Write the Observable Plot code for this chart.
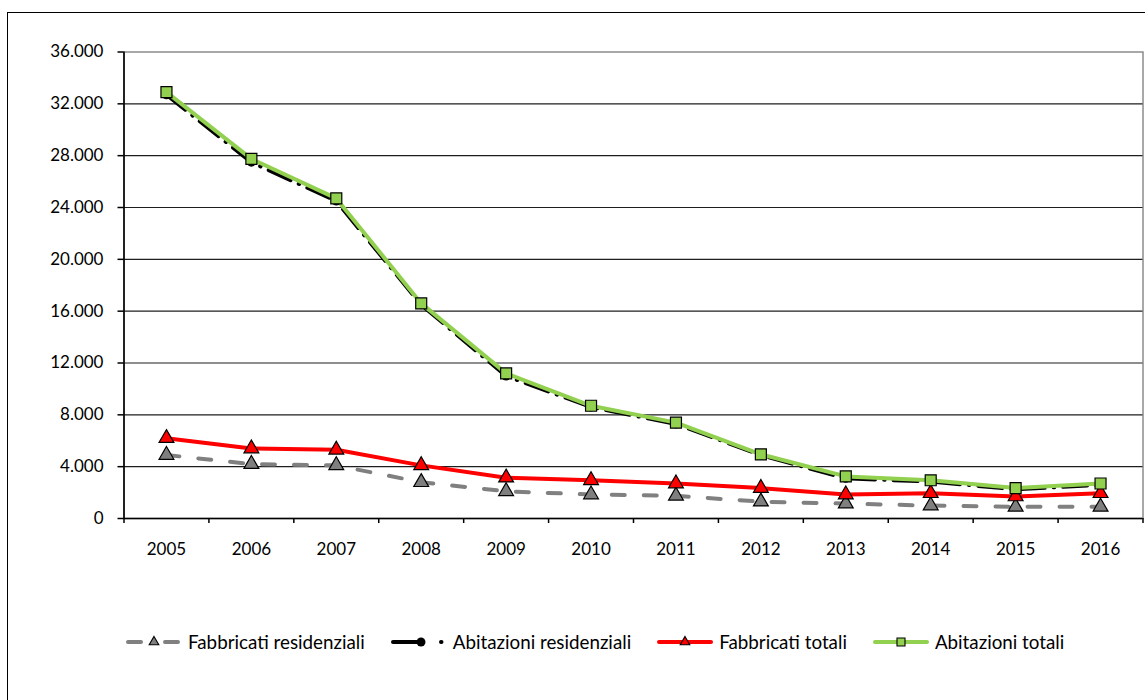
<!DOCTYPE html>
<html>
<head>
<meta charset="utf-8">
<script src="https://cdn.jsdelivr.net/npm/d3@7"></script>
<script src="https://cdn.jsdelivr.net/npm/@observablehq/plot@0.6"></script>
<style>
  html, body { margin: 0; padding: 0; background: #fff; overflow: hidden; }
  body { width: 1145px; height: 700px; position: relative; font-family: Lato, "Open Sans", sans-serif; }
  #frame { position: absolute; left: 7px; top: 12px; width: 1200px; height: 800px; border: 1px solid #000; box-sizing: border-box; }
  #chart { position: absolute; left: 0; top: 0; }
  #legend { position: absolute; left: 126px; top: 630px; display: flex; align-items: center; gap: 26px; font-size: 18.8px; color: #000; }
  .item { display: flex; align-items: center; }
  .item span { margin-left: 6px; white-space: nowrap; }
</style>
</head>
<body>
<div id="frame"></div>
<div id="chart"></div>
<div id="legend"></div>
<script>
const years = [2005, 2006, 2007, 2008, 2009, 2010, 2011, 2012, 2013, 2014, 2015, 2016];
const fabbricatiResidenziali = [4900, 4200, 4100, 2800, 2100, 1850, 1750, 1300, 1150, 1000, 900, 900];
const abitazioniResidenziali = [32700, 27500, 24500, 16500, 11000, 8600, 7300, 4900, 3100, 2850, 2250, 2600];
const fabbricatiTotali = [6200, 5400, 5300, 4100, 3150, 2950, 2700, 2350, 1850, 1950, 1700, 1950];
const abitazioniTotali = [32900, 27750, 24700, 16600, 11200, 8700, 7400, 4950, 3250, 2950, 2350, 2700];
const yTicks = [0, 4000, 8000, 12000, 16000, 20000, 24000, 28000, 32000, 36000];
const seriesNames = ["Fabbricati residenziali", "Abitazioni residenziali", "Fabbricati totali", "Abitazioni totali"];

const fmt = d3.formatLocale({decimal: ",", thousands: ".", grouping: [3], currency: ["€", ""]}).format(",");

const styles = [
  {stroke: "#808080", width: 4, dash: "13,19", symbol: "triangle", fill: "#7f7f7f", r: 5.5},
  {stroke: "#000000", width: 4, dash: "24,9,0.5,9", symbol: "circle", fill: "#000000", r: 4.5},
  {stroke: "#ff0000", width: 4, dash: null, symbol: "triangle", fill: "#ff0000", r: 5.5},
  {stroke: "#92d050", width: 4, dash: null, symbol: "square", fill: "#92d050", r: 6.2}
];
const values = [fabbricatiResidenziali, abitazioniResidenziali, fabbricatiTotali, abitazioniTotali];

const tables = values.map(vs => years.map((y, i) => ({year: y, value: vs[i]})));
const boundaries = [years[0] - 0.5, ...years.map(y => y + 0.5)];

const seriesMarks = [];
tables.forEach((t, k) => {
  const s = styles[k];
  seriesMarks.push(Plot.line(t, {x: "year", y: "value", stroke: s.stroke, strokeWidth: s.width,
    strokeDasharray: s.dash || undefined, strokeLinecap: "round", strokeLinejoin: "round"}));
});
tables.forEach((t, k) => {
  const s = styles[k];
  seriesMarks.push(Plot.dot(t, {x: "year", y: "value", symbol: s.symbol, r: s.r, fill: s.fill,
    stroke: "#000", strokeWidth: s.symbol === "circle" ? 0 : 1.2}));
});

const chart = Plot.plot({
  width: 1145,
  height: 570,
  marginLeft: 123.5,
  marginRight: 2.5,
  marginTop: 51.5,
  marginBottom: 52,
  style: {fontFamily: "Lato, 'Open Sans', sans-serif", fontSize: "17px", color: "#000", background: "transparent", overflow: "visible"},
  x: {type: "linear", domain: [years[0] - 0.5, years[years.length - 1] + 0.5]},
  y: {domain: [0, 36000]},
  marks: [
    Plot.frame({stroke: "#8c8c8c", strokeWidth: 1.5}),
    Plot.ruleY(yTicks.slice(1, -1), {stroke: "#1e1e1e", strokeWidth: 1.2}),
    Plot.axisY({ticks: yTicks, tickFormat: fmt, tickSize: 6, tickPadding: 14.5, label: null, fontSize: 17, strokeWidth: 1.5}),
    Plot.axisX({ticks: boundaries, tickSize: 5, tickFormat: () => "", label: null, strokeWidth: 1.5}),
    Plot.axisX({ticks: years, tickSize: 0, tickPadding: 24, tickFormat: d => String(d), label: null, fontSize: 17}),
    Plot.ruleX([years[0] - 0.5], {stroke: "#000", strokeWidth: 1.6}),
    Plot.ruleY([0], {stroke: "#000", strokeWidth: 1.6}),
    ...seriesMarks
  ]
});
document.getElementById("chart").appendChild(chart);

// Legend
const legend = document.getElementById("legend");
const ns = "http://www.w3.org/2000/svg";
seriesNames.forEach((name, k) => {
  const s = styles[k];
  const item = document.createElement("div");
  item.className = "item";
  const svg = document.createElementNS(ns, "svg");
  svg.setAttribute("width", 56);
  svg.setAttribute("height", 20);
  const line = document.createElementNS(ns, "line");
  line.setAttribute("x1", 2); line.setAttribute("x2", 54);
  line.setAttribute("y1", 10); line.setAttribute("y2", 10);
  line.setAttribute("stroke", s.stroke);
  line.setAttribute("stroke-width", s.width);
  line.setAttribute("stroke-linecap", "round");
  if (s.dash) line.setAttribute("stroke-dasharray", k === 0 ? "13,24" : "30,18,0.5,20");
  svg.appendChild(line);
  const sym = {triangle: d3.symbolTriangle, circle: d3.symbolCircle, square: d3.symbolSquare}[s.symbol];
  const area = s.symbol === "circle" ? Math.PI * 20 : (s.symbol === "square" ? 64 : 40);
  const path = document.createElementNS(ns, "path");
  path.setAttribute("d", d3.symbol(sym, area)());
  path.setAttribute("transform", `translate(${k === 1 ? 30 : 28},10)`);
  path.setAttribute("fill", s.fill);
  path.setAttribute("stroke", "#000");
  path.setAttribute("stroke-width", s.symbol === "circle" ? 0 : 1.1);
  svg.appendChild(path);
  item.appendChild(svg);
  const span = document.createElement("span");
  span.textContent = name;
  item.appendChild(span);
  legend.appendChild(item);
});
</script>
</body>
</html>
